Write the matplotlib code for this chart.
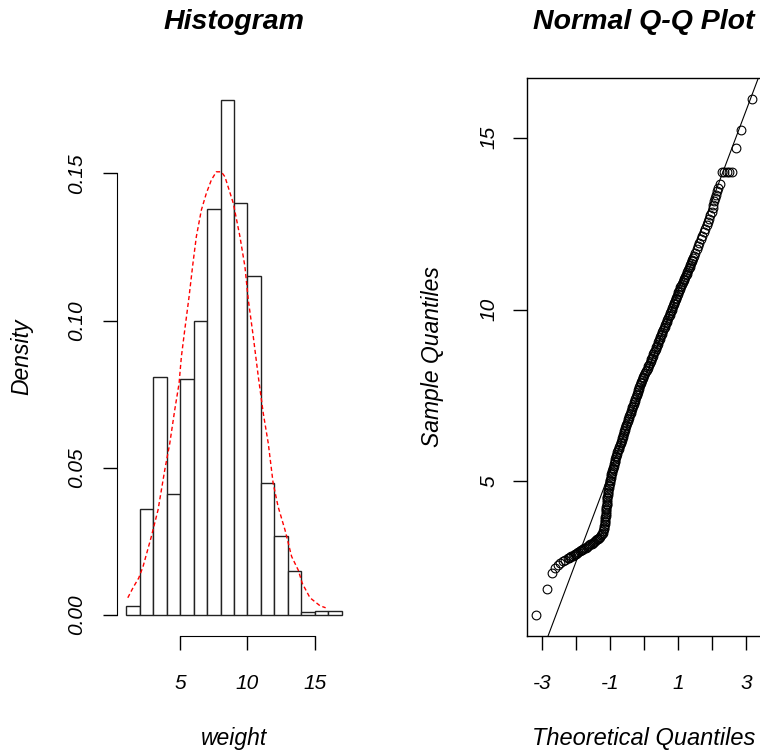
import matplotlib
matplotlib.use("Agg")
import matplotlib.pyplot as plt

# Histogram data (density per unit bin)
hist_breaks = [1, 2, 3, 4, 5, 6, 7, 8, 9, 10, 11, 12, 13, 14, 15, 16, 17]
hist_density = [0.003, 0.036, 0.081, 0.041, 0.080, 0.100, 0.138, 0.175,
                0.140, 0.115, 0.045, 0.027, 0.015, 0.001, 0.0015, 0.0015]

# red dashed density curve
dens_x = [1.13, 1.54, 1.94, 2.26, 2.87, 3.37, 3.87, 4.24, 4.61, 4.93,
          5.10, 5.35, 5.67, 5.96, 6.21, 6.58, 6.95, 7.32, 7.69, 8.06,
          8.33, 8.95, 9.44, 9.81, 10.06, 10.43, 10.80, 11.17, 11.54, 11.90,
          12.27, 12.78, 13.27, 13.76, 14.06, 14.63, 15.37, 15.79]
dens_y = [0.0059, 0.0095, 0.0126, 0.0165, 0.0266, 0.0357, 0.0493, 0.0583, 0.0697, 0.0787,
          0.0877, 0.0968, 0.1081, 0.1195, 0.1285, 0.1375, 0.1432, 0.1477, 0.1505, 0.1505,
          0.1488, 0.1398, 0.1285, 0.1183, 0.1070, 0.0945, 0.0810, 0.0685, 0.0583, 0.0448,
          0.0368, 0.0289, 0.0199, 0.0153, 0.0108, 0.0059, 0.0032, 0.0025]

# Q-Q points as (theoretical quantile, sample quantile), read along the band
qq_tail_low = [(-3.19, 1.10), (-2.87, 1.87), (-2.71, 2.33), (-2.62, 2.47),
               (-2.55, 2.56), (-2.48, 2.62), (-2.40, 2.68), (-2.32, 2.72)]
qq_shelf = [(-2.25, 2.76), (-2.215, 2.775), (-2.18, 2.79), (-2.145, 2.81), (-2.11, 2.83),
            (-2.075, 2.85), (-2.04, 2.87), (-2.005, 2.895), (-1.97, 2.92), (-1.935, 2.94),
            (-1.90, 2.96), (-1.865, 2.985), (-1.83, 3.01), (-1.795, 3.03), (-1.76, 3.05),
            (-1.725, 3.07), (-1.69, 3.09), (-1.655, 3.115), (-1.62, 3.14), (-1.585, 3.16),
            (-1.55, 3.18), (-1.515, 3.205), (-1.48, 3.23), (-1.445, 3.255), (-1.41, 3.28),
            (-1.38, 3.305), (-1.35, 3.33), (-1.32, 3.36), (-1.29, 3.39), (-1.265, 3.425),
            (-1.24, 3.46)]
qq_steep = [(-1.225, 3.50), (-1.21, 3.55), (-1.195, 3.60), (-1.18, 3.65), (-1.17, 3.70),
            (-1.16, 3.75), (-1.155, 3.80), (-1.15, 3.85), (-1.145, 3.90), (-1.14, 3.95),
            (-1.135, 4.00), (-1.13, 4.05), (-1.125, 4.10), (-1.12, 4.15), (-1.115, 4.20),
            (-1.11, 4.25), (-1.105, 4.30), (-1.10, 4.35), (-1.095, 4.40), (-1.09, 4.45),
            (-1.085, 4.50), (-1.08, 4.55), (-1.075, 4.60), (-1.07, 4.65), (-1.065, 4.70),
            (-1.06, 4.75), (-1.05, 4.80), (-1.04, 4.85)]
qq_middle = [(-1.03, 4.90), (-1.02, 4.95), (-1.01, 5.00), (-1.00, 5.05), (-0.99, 5.10),
             (-0.98, 5.15), (-0.97, 5.20), (-0.96, 5.25), (-0.945, 5.30), (-0.93, 5.35),
             (-0.915, 5.40), (-0.90, 5.45), (-0.885, 5.50), (-0.87, 5.55), (-0.86, 5.60),
             (-0.85, 5.65), (-0.84, 5.70), (-0.83, 5.75), (-0.81, 5.80), (-0.79, 5.85),
             (-0.77, 5.90), (-0.75, 5.95), (-0.73, 6.00), (-0.71, 6.05), (-0.69, 6.10),
             (-0.67, 6.15), (-0.655, 6.20), (-0.64, 6.25), (-0.625, 6.30), (-0.61, 6.35),
             (-0.595, 6.40), (-0.58, 6.45), (-0.565, 6.50), (-0.55, 6.55), (-0.535, 6.60),
             (-0.52, 6.65), (-0.505, 6.70), (-0.49, 6.75), (-0.475, 6.80), (-0.46, 6.85),
             (-0.44, 6.90), (-0.42, 6.95), (-0.40, 7.00), (-0.38, 7.05), (-0.365, 7.10),
             (-0.35, 7.15), (-0.33, 7.20), (-0.31, 7.25), (-0.29, 7.30), (-0.27, 7.35),
             (-0.255, 7.40), (-0.24, 7.45), (-0.22, 7.50), (-0.20, 7.55), (-0.185, 7.60),
             (-0.17, 7.65), (-0.155, 7.70), (-0.14, 7.75), (-0.12, 7.80), (-0.10, 7.85),
             (-0.085, 7.90), (-0.07, 7.95), (-0.045, 8.00), (-0.02, 8.05), (0.005, 8.10),
             (0.03, 8.15), (0.055, 8.20), (0.08, 8.25), (0.10, 8.30), (0.12, 8.35),
             (0.145, 8.40), (0.17, 8.45), (0.19, 8.50), (0.21, 8.55), (0.23, 8.60),
             (0.25, 8.65), (0.275, 8.70), (0.30, 8.75), (0.32, 8.80), (0.34, 8.85),
             (0.36, 8.90), (0.38, 8.95), (0.40, 9.00), (0.42, 9.05), (0.44, 9.10),
             (0.46, 9.15), (0.48, 9.20), (0.50, 9.25), (0.52, 9.30), (0.54, 9.35),
             (0.56, 9.40), (0.58, 9.45), (0.60, 9.50), (0.62, 9.55), (0.64, 9.60),
             (0.66, 9.65), (0.68, 9.70), (0.70, 9.75), (0.725, 9.80), (0.75, 9.85),
             (0.77, 9.90), (0.79, 9.95), (0.81, 10.00), (0.83, 10.05), (0.85, 10.10),
             (0.87, 10.15), (0.89, 10.20), (0.91, 10.25), (0.93, 10.30), (0.95, 10.35),
             (0.97, 10.40), (0.99, 10.45), (1.01, 10.50), (1.03, 10.55), (1.05, 10.60),
             (1.07, 10.65), (1.095, 10.70), (1.12, 10.75), (1.14, 10.80), (1.16, 10.85),
             (1.185, 10.90), (1.21, 10.95), (1.23, 11.00), (1.25, 11.05), (1.27, 11.10),
             (1.29, 11.15), (1.315, 11.20), (1.34, 11.25), (1.36, 11.30), (1.38, 11.35),
             (1.40, 11.40), (1.42, 11.45), (1.445, 11.50)]
qq_upper = [(1.47, 11.55), (1.51, 11.65), (1.55, 11.75), (1.59, 11.85), (1.63, 11.95),
            (1.67, 12.05), (1.71, 12.15), (1.76, 12.25), (1.80, 12.35), (1.84, 12.45),
            (1.88, 12.55), (1.92, 12.65), (1.95, 12.75), (1.99, 12.85), (2.02, 12.95),
            (2.04, 13.05), (2.06, 13.15), (2.09, 13.25), (2.13, 13.35), (2.16, 13.45),
            (2.19, 13.55), (2.22, 13.65)]
qq_tail_high = [(2.28, 14.02), (2.36, 14.02), (2.43, 14.02), (2.51, 14.02), (2.58, 14.02),
                (2.70, 14.70), (2.85, 15.22), (3.19, 16.14)]

# qqline
qq_intercept = 7.92
qq_slope = 2.623

plt.rcParams['font.family'] = ['Liberation Sans', 'DejaVu Sans']

fig = plt.figure(figsize=(7.6, 7.52), dpi=100)
W, H = 760.0, 752.0

def px_axes(x0, x1, y0, y1):
    return fig.add_axes([x0 / W, 1 - y1 / H, (x1 - x0) / W, (y1 - y0) / H])

tick_font = dict(fontsize=15, fontstyle='italic')

# ---- Histogram ----
ax1 = px_axes(117.4, 350.6, 78.1, 635.8)
widths = [hist_breaks[i + 1] - hist_breaks[i] for i in range(len(hist_density))]
ax1.bar(hist_breaks[:-1], hist_density, width=widths, align='edge',
        facecolor='white', edgecolor='#222222', linewidth=1.0)
ax1.plot(dens_x, dens_y, color='red', linestyle=(0, (3, 2)), linewidth=1.0)
ax1.set_xlim(0.36, 17.64)
ax1.set_ylim(-0.00701, 0.18231)
for s in ['top', 'right']:
    ax1.spines[s].set_visible(False)
ax1.spines['left'].set_bounds(0, 0.15)
ax1.spines['bottom'].set_bounds(5, 15)
ax1.set_xticks([5, 10, 15])
ax1.set_xticklabels(['5', '10', '15'], **tick_font)
ax1.set_yticks([0, 0.05, 0.10, 0.15])
ax1.set_yticklabels(['0.00', '0.05', '0.10', '0.15'], rotation=90, va='center', **tick_font)
ax1.tick_params(length=10, width=1.0, pad=17.5)
ax1.tick_params(axis='y', pad=12.5)

# ---- Q-Q plot ----
ax2 = px_axes(527.3, 761.0, 78.1, 635.8)
qq_all = qq_tail_low + qq_shelf + qq_steep + qq_middle + qq_upper + qq_tail_high
qq_theoretical = [p[0] for p in qq_all]
qq_sample = [p[1] for p in qq_all]
ax2.plot(qq_theoretical, qq_sample, linestyle='none', marker='o', markersize=6.3,
         markerfacecolor='none', markeredgecolor='black', markeredgewidth=0.8)
ax2.axline((0, qq_intercept), slope=qq_slope, color='black', linewidth=0.8)
ax2.set_xlim(-3.442, 3.442)
ax2.set_ylim(0.50, 16.74)
ax2.set_xticks([-3, -2, -1, 0, 1, 2, 3])
ax2.set_xticklabels(['-3', '', '-1', '', '1', '', '3'], **tick_font)
ax2.set_yticks([5, 10, 15])
ax2.set_yticklabels(['5', '10', '15'], rotation=90, va='center', **tick_font)
ax2.tick_params(length=10, width=1.0, pad=17.5)
ax2.tick_params(axis='y', pad=11)
for s in ax2.spines.values():
    s.set_linewidth(1.0)

# ---- titles and axis labels ----
fig.text(234 / W, 1 - 22 / H, 'Histogram', ha='center', va='center',
         fontsize=20.5, fontweight='bold', fontstyle='italic')
fig.text(644 / W, 1 - 22 / H, 'Normal Q-Q Plot', ha='center', va='center',
         fontsize=20.5, fontweight='bold', fontstyle='italic')
fig.text(234 / W, 1 - 738 / H, 'weight', ha='center', va='center',
         fontsize=16.5, fontstyle='italic')
fig.text(644 / W, 1 - 738 / H, 'Theoretical Quantiles', ha='center', va='center',
         fontsize=17, fontstyle='italic')
fig.text(22 / W, 1 - 357 / H, 'Density', ha='center', va='center', rotation=90,
         fontsize=16.5, fontstyle='italic')
fig.text(432 / W, 1 - 357 / H, 'Sample Quantiles', ha='center', va='center', rotation=90,
         fontsize=16.5, fontstyle='italic')

fig.savefig('out.png', dpi=100)
